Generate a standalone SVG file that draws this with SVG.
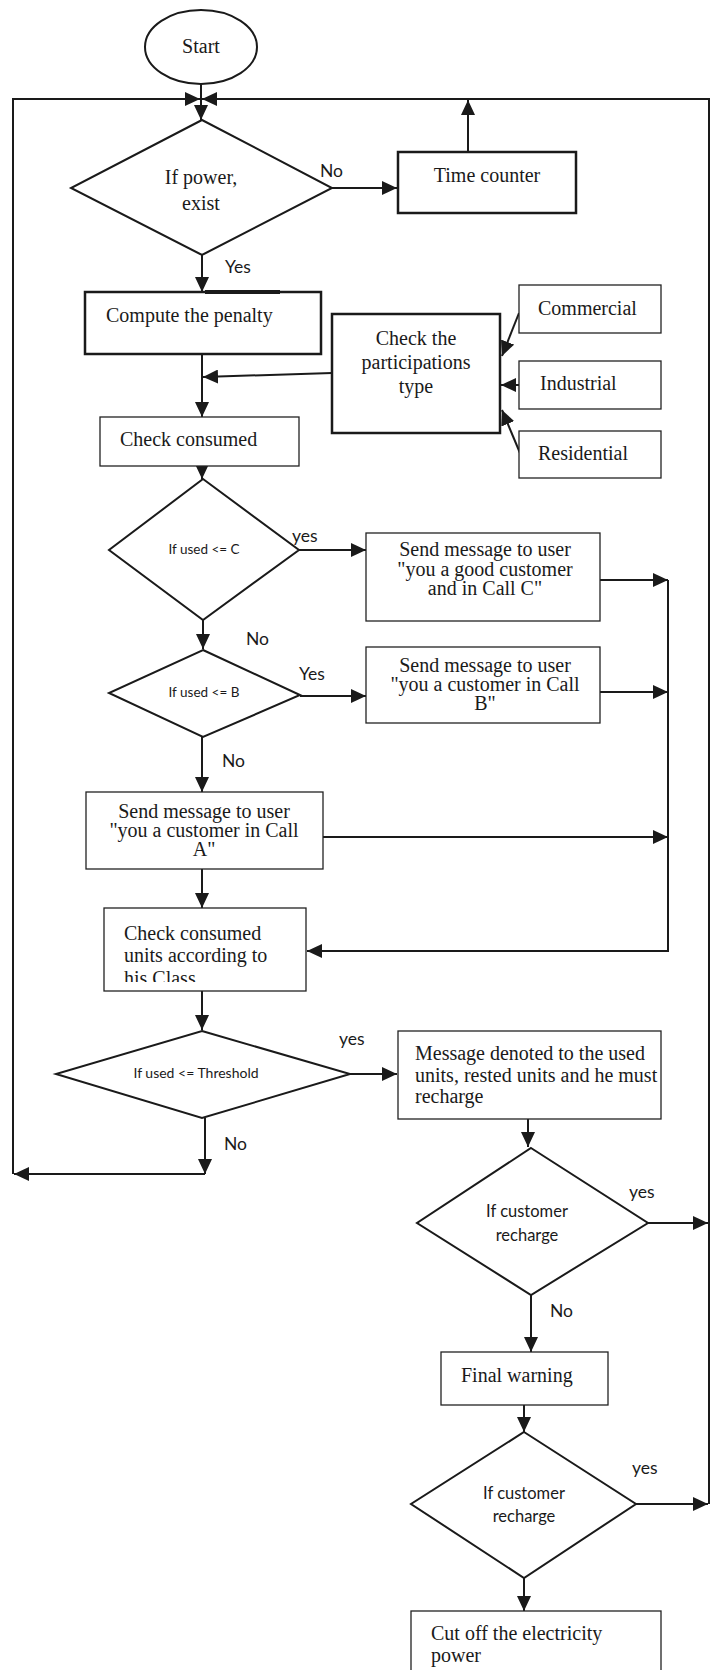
<svg xmlns="http://www.w3.org/2000/svg" width="727" height="1670" viewBox="0 0 727 1670">
<style>
.box{fill:#fff;stroke:#222;stroke-width:1.3}
.bold{fill:#fff;stroke:#1a1a1a;stroke-width:2.5}
.dia{fill:#fff;stroke:#1a1a1a;stroke-width:2}
.t{font-family:"Liberation Serif","Times New Roman",serif;font-size:20px;fill:#1a1a1a}
.s{font-family:Lato,"Liberation Sans",sans-serif;fill:#1a1a1a}
.lbl{font-family:Lato,"Liberation Sans",sans-serif;font-size:17.5px;fill:#1a1a1a}
.c{text-anchor:middle}
#connectors path{fill:none;stroke:#1a1a1a;stroke-width:2}
</style>
<defs>
<marker id="ah" markerUnits="userSpaceOnUse" markerWidth="15" markerHeight="14" refX="15" refY="7" orient="auto">
<path d="M0,0 L15,7 L0,14 z" fill="#1a1a1a"/>
</marker>
<clipPath id="clipD"><rect x="104" y="908" width="202" height="74"/></clipPath>
</defs>
<rect width="727" height="1670" fill="#fff"/>

<g id="connectors">
<path d="M201,84 V120" marker-end="url(#ah)"/>
<path d="M205,1174 H14" marker-end="url(#ah)"/>
<path d="M13,1174 V99 H200" marker-end="url(#ah)"/>
<path d="M648,1223 H708" marker-end="url(#ah)"/>
<path d="M636,1504 H708" marker-end="url(#ah)"/>
<path d="M709,1504 V99 H202" marker-end="url(#ah)"/>
<path d="M468,152 V100" marker-end="url(#ah)"/>
<path d="M332,188 H397" marker-end="url(#ah)"/>
<path d="M202,255 V292" marker-end="url(#ah)"/>
<path d="M202,354 V417" marker-end="url(#ah)"/>
<path d="M332,373 L203,377" marker-end="url(#ah)"/>
<path d="M519,313 L502,356" marker-end="url(#ah)"/>
<path d="M519,385 H501" marker-end="url(#ah)"/>
<path d="M520,453 L502,410" marker-end="url(#ah)"/>
<path d="M202,466 V479" marker-end="url(#ah)"/>
<path d="M299,550 H366" marker-end="url(#ah)"/>
<path d="M600,580 H668" marker-end="url(#ah)"/>
<path d="M203,620 V649" marker-end="url(#ah)"/>
<path d="M300,696 H366" marker-end="url(#ah)"/>
<path d="M600,692 H668" marker-end="url(#ah)"/>
<path d="M202,737 V792" marker-end="url(#ah)"/>
<path d="M323,837 H668" marker-end="url(#ah)"/>
<path d="M668,580 V951 H307" marker-end="url(#ah)"/>
<path d="M202,869 V908" marker-end="url(#ah)"/>
<path d="M202,991 V1030" marker-end="url(#ah)"/>
<path d="M350,1074 H397" marker-end="url(#ah)"/>
<path d="M205,1118 V1174" marker-end="url(#ah)"/>
<path d="M528,1119 V1147" marker-end="url(#ah)"/>
<path d="M531,1295 V1352" marker-end="url(#ah)"/>
<path d="M524,1405 V1432" marker-end="url(#ah)"/>
<path d="M524,1578 V1611" marker-end="url(#ah)"/>
</g>

<g id="labels">
<text class="lbl" x="320" y="177">No</text>
<text class="lbl" x="225" y="273">Yes</text>
<text class="lbl" x="292" y="542">yes</text>
<text class="lbl" x="246" y="645">No</text>
<text class="lbl" x="299" y="680">Yes</text>
<text class="lbl" x="222" y="767">No</text>
<text class="lbl" x="339" y="1045">yes</text>
<text class="lbl" x="224" y="1150">No</text>
<text class="lbl" x="629" y="1198">yes</text>
<text class="lbl" x="550" y="1317">No</text>
<text class="lbl" x="632" y="1474">yes</text>
</g>

<g id="start">
<ellipse cx="201" cy="47" rx="56" ry="37" fill="#fff" stroke="#1a1a1a" stroke-width="2"/>
<text class="t c" x="201" y="53">Start</text>
</g>

<g id="power">
<polygon class="dia" points="202,120 332,188 202,255 71,188"/>
<text class="t c" x="201" y="184">If power,</text>
<text class="t c" x="201" y="210">exist</text>
</g>

<g id="timecounter">
<rect class="bold" x="398" y="152" width="178" height="61"/>
<text class="t c" x="487" y="182">Time counter</text>
</g>

<g id="penalty">
<rect class="bold" x="85" y="292" width="236" height="62"/>
<line x1="205" y1="292" x2="280" y2="292" stroke="#1a1a1a" stroke-width="4"/>
<text class="t" x="106" y="322">Compute the penalty</text>
</g>

<g id="participations">
<rect class="bold" x="332" y="314" width="168" height="119"/>
<text class="t c" x="416" y="345">Check the</text>
<text class="t c" x="416" y="369">participations</text>
<text class="t c" x="416" y="393">type</text>
</g>

<g id="commercial">
<rect class="box" x="519" y="285" width="142" height="48"/>
<text class="t" x="538" y="315">Commercial</text>
</g>
<g id="industrial">
<rect class="box" x="519" y="361" width="142" height="48"/>
<text class="t" x="540" y="390">Industrial</text>
</g>
<g id="residential">
<rect class="box" x="519" y="431" width="142" height="47"/>
<text class="t" x="538" y="460">Residential</text>
</g>

<g id="checkconsumed">
<rect class="box" x="100" y="417" width="199" height="49"/>
<text class="t" x="120" y="446">Check consumed</text>
</g>

<g id="usedC">
<polygon class="dia" points="203,479 299,550 203,620 109,550"/>
<text class="s c" x="204" y="554" font-size="13.5">If used &lt;= C</text>
</g>

<g id="msgC">
<rect class="box" x="366" y="533" width="234" height="88"/>
<text class="t c" x="485" y="556">Send message to user</text>
<text class="t c" x="485" y="576">"you a good customer</text>
<text class="t c" x="485" y="595">and in Call C"</text>
</g>

<g id="usedB">
<polygon class="dia" points="203,650 300,695 203,737 109,693"/>
<text class="s c" x="204" y="697" font-size="13.5">If used &lt;= B</text>
</g>

<g id="msgB">
<rect class="box" x="366" y="647" width="234" height="76"/>
<text class="t c" x="485" y="672">Send message to user</text>
<text class="t c" x="485" y="691">"you a customer in Call</text>
<text class="t c" x="485" y="710">B"</text>
</g>

<g id="msgA">
<rect class="box" x="86" y="792" width="237" height="77"/>
<text class="t c" x="204" y="818">Send message to user</text>
<text class="t c" x="204" y="837">"you a customer in Call</text>
<text class="t c" x="204" y="856">A"</text>
</g>

<g id="checkunits">
<rect class="box" x="104" y="908" width="202" height="83"/>
<g clip-path="url(#clipD)">
<text class="t" x="124" y="940">Check consumed</text>
<text class="t" x="124" y="962">units according to</text>
<text class="t" x="124" y="985">his Class</text>
</g>
</g>

<g id="threshold">
<polygon class="dia" points="202,1031 350,1074 202,1118 56,1074"/>
<text class="s c" x="196" y="1078" font-size="14">If used &lt;= Threshold</text>
</g>

<g id="msgThreshold">
<rect class="box" x="398" y="1031" width="263" height="88"/>
<text class="t" x="415" y="1060">Message denoted to the used</text>
<text class="t" x="415" y="1082">units, rested units and he must</text>
<text class="t" x="415" y="1103">recharge</text>
</g>

<g id="recharge1">
<polygon class="dia" points="531,1148 648,1223 531,1295 417,1223"/>
<text class="s c" x="527" y="1217" font-size="16.5">If customer</text>
<text class="s c" x="527" y="1241" font-size="16.5">recharge</text>
</g>

<g id="finalwarning">
<rect class="box" x="441" y="1352" width="167" height="53"/>
<text class="t" x="461" y="1382">Final warning</text>
</g>

<g id="recharge2">
<polygon class="dia" points="524,1432 636,1504 524,1578 411,1504"/>
<text class="s c" x="524" y="1499" font-size="16.5">If customer</text>
<text class="s c" x="524" y="1522" font-size="16.5">recharge</text>
</g>

<g id="cutoff">
<rect class="box" x="411" y="1611" width="250" height="80"/>
<text class="t" x="431" y="1640">Cut off the electricity</text>
<text class="t" x="431" y="1662">power</text>
</g>
</svg>
